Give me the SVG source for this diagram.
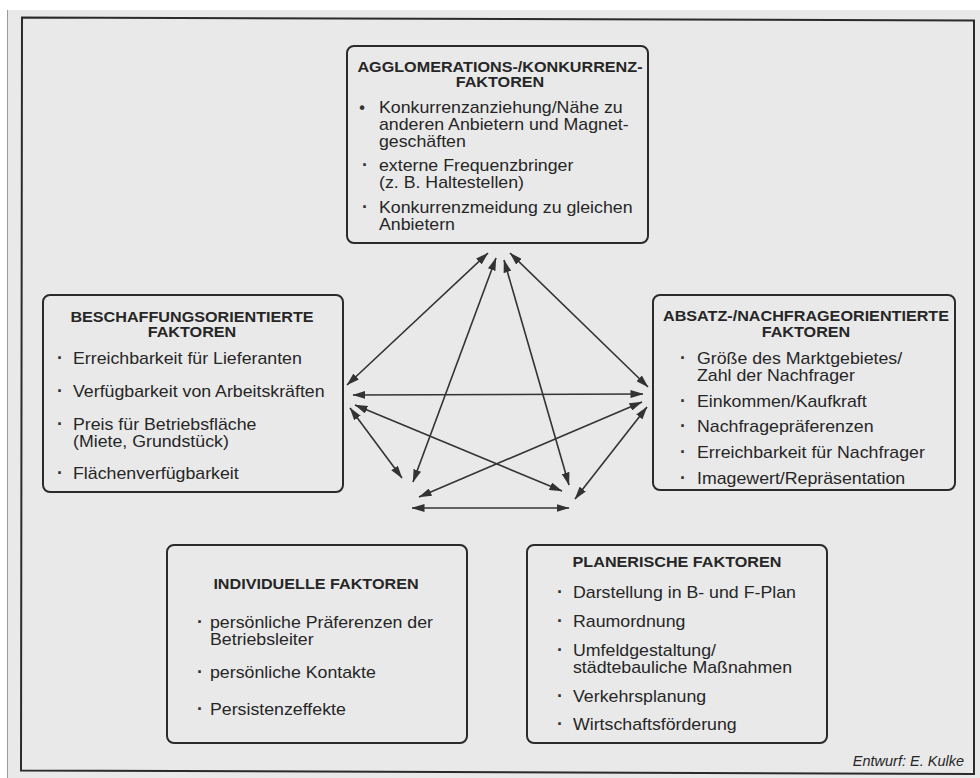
<svg xmlns="http://www.w3.org/2000/svg" width="980" height="778" viewBox="0 0 980 778">
<defs>
<style>
.t{font-family:"Liberation Sans",Arial,Helvetica,sans-serif;font-size:16px;fill:#262626}
.h{font-family:"Liberation Sans",Arial,Helvetica,sans-serif;font-size:14.7px;font-weight:bold;fill:#262626;text-anchor:middle}
.bu{font-family:"Liberation Sans",Arial,sans-serif;font-size:18px;font-weight:bold;fill:#333;text-anchor:middle}
.box{fill:none;stroke:#2b2b2b;stroke-width:2}
.c{stroke:#333;stroke-width:1.6;fill:none;marker-start:url(#ah);marker-end:url(#ah)}
.cr{font-family:"Liberation Sans",Arial,sans-serif;font-size:14.5px;font-style:italic;fill:#262626;text-anchor:end}
</style>
<marker id="ah" viewBox="0 0 13 8" refX="12.5" refY="4" markerWidth="13" markerHeight="8" markerUnits="userSpaceOnUse" orient="auto-start-reverse">
<path d="M0,0 L13,4 L0,8 z" fill="#333"/>
</marker>
</defs>
<rect x="0" y="0" width="980" height="778" fill="#ffffff"/>
<rect x="7" y="10" width="973" height="768" fill="#e9e9e9"/>
<line x1="7.5" y1="10" x2="7.5" y2="778" stroke="#9a9a9a" stroke-width="1"/>
<path d="M22,17.5 L974,20.5 L974,774 L21,770.5 Z" fill="none" stroke="#2b2b2b" stroke-width="2"/>

<g id="n-agglomeration">
<rect class="box" x="347" y="46" width="301" height="197" rx="7"/>
<text class="h" transform="translate(500,72) scale(1.1,1)">AGGLOMERATIONS-/KONKURRENZ-</text>
<text class="h" transform="translate(500,87) scale(1.1,1)">FAKTOREN</text>
<text class="bu" x="362" y="113" style="font-size:16px">•</text>
<text class="bu" x="365" y="171">·</text>
<text class="bu" x="365" y="213">·</text>
<text class="t" transform="translate(379,113) scale(1.11,1)">Konkurrenzanziehung/Nähe zu</text>
<text class="t" transform="translate(379,130) scale(1.11,1)">anderen Anbietern und Magnet-</text>
<text class="t" transform="translate(379,147) scale(1.11,1)">geschäften</text>
<text class="t" transform="translate(379,171) scale(1.11,1)">externe Frequenzbringer</text>
<text class="t" transform="translate(379,188) scale(1.11,1)">(z. B. Haltestellen)</text>
<text class="t" transform="translate(379,213) scale(1.11,1)">Konkurrenzmeidung zu gleichen</text>
<text class="t" transform="translate(379,230) scale(1.11,1)">Anbietern</text>
</g>

<g id="n-beschaffung">
<rect class="box" x="43" y="295" width="300" height="197" rx="7"/>
<text class="h" transform="translate(192,322) scale(1.1,1)">BESCHAFFUNGSORIENTIERTE</text>
<text class="h" transform="translate(192,337) scale(1.1,1)">FAKTOREN</text>
<text class="bu" x="60" y="364">·</text>
<text class="bu" x="60" y="397">·</text>
<text class="bu" x="60" y="430">·</text>
<text class="bu" x="60" y="479">·</text>
<text class="t" transform="translate(73,364) scale(1.11,1)">Erreichbarkeit für Lieferanten</text>
<text class="t" transform="translate(73,397) scale(1.11,1)">Verfügbarkeit von Arbeitskräften</text>
<text class="t" transform="translate(73,430) scale(1.11,1)">Preis für Betriebsfläche</text>
<text class="t" transform="translate(73,447) scale(1.11,1)">(Miete, Grundstück)</text>
<text class="t" transform="translate(73,479) scale(1.11,1)">Flächenverfügbarkeit</text>
</g>

<g id="n-absatz">
<rect class="box" x="653" y="295" width="302" height="195" rx="7"/>
<text class="h" transform="translate(806,321) scale(1.1,1)">ABSATZ-/NACHFRAGEORIENTIERTE</text>
<text class="h" transform="translate(806,337) scale(1.1,1)">FAKTOREN</text>
<text class="bu" x="683" y="364">·</text>
<text class="bu" x="683" y="407">·</text>
<text class="bu" x="683" y="432">·</text>
<text class="bu" x="683" y="458">·</text>
<text class="bu" x="683" y="484">·</text>
<text class="t" transform="translate(697,364) scale(1.11,1)">Größe des Marktgebietes/</text>
<text class="t" transform="translate(697,381) scale(1.11,1)">Zahl der Nachfrager</text>
<text class="t" transform="translate(697,407) scale(1.11,1)">Einkommen/Kaufkraft</text>
<text class="t" transform="translate(697,432) scale(1.11,1)">Nachfragepräferenzen</text>
<text class="t" transform="translate(697,458) scale(1.11,1)">Erreichbarkeit für Nachfrager</text>
<text class="t" transform="translate(697,484) scale(1.11,1)">Imagewert/Repräsentation</text>
</g>

<g id="n-individuell">
<rect class="box" x="167" y="545" width="300" height="198" rx="7"/>
<text class="h" transform="translate(316,589) scale(1.1,1)">INDIVIDUELLE FAKTOREN</text>
<text class="bu" x="200" y="628">·</text>
<text class="bu" x="200" y="678">·</text>
<text class="bu" x="200" y="715">·</text>
<text class="t" transform="translate(210,628) scale(1.11,1)">persönliche Präferenzen der</text>
<text class="t" transform="translate(210,645) scale(1.11,1)">Betriebsleiter</text>
<text class="t" transform="translate(210,678) scale(1.11,1)">persönliche Kontakte</text>
<text class="t" transform="translate(210,715) scale(1.11,1)">Persistenzeffekte</text>
</g>

<g id="n-planerisch">
<rect class="box" x="527" y="545" width="300" height="198" rx="7"/>
<text class="h" transform="translate(677,567) scale(1.1,1)">PLANERISCHE FAKTOREN</text>
<text class="bu" x="560" y="598">·</text>
<text class="bu" x="560" y="627">·</text>
<text class="bu" x="560" y="656">·</text>
<text class="bu" x="560" y="702">·</text>
<text class="bu" x="560" y="730">·</text>
<text class="t" transform="translate(573,598) scale(1.11,1)">Darstellung in B- und F-Plan</text>
<text class="t" transform="translate(573,627) scale(1.11,1)">Raumordnung</text>
<text class="t" transform="translate(573,656) scale(1.11,1)">Umfeldgestaltung/</text>
<text class="t" transform="translate(573,673) scale(1.11,1)">städtebauliche Maßnahmen</text>
<text class="t" transform="translate(573,702) scale(1.11,1)">Verkehrsplanung</text>
<text class="t" transform="translate(573,730) scale(1.11,1)">Wirtschaftsförderung</text>
</g>

<g id="connectors">
<line class="c" x1="488" y1="253" x2="347" y2="385"/>
<line class="c" x1="496" y1="258" x2="413" y2="482"/>
<line class="c" x1="504" y1="260" x2="569" y2="485"/>
<line class="c" x1="510" y1="253" x2="648" y2="387"/>
<line class="c" x1="353" y1="395" x2="643" y2="394"/>
<line class="c" x1="355" y1="405" x2="562" y2="491"/>
<line class="c" x1="350" y1="408" x2="402" y2="478"/>
<line class="c" x1="642" y1="402" x2="419" y2="497"/>
<line class="c" x1="647" y1="407" x2="575" y2="499"/>
<line class="c" x1="412" y1="508" x2="569" y2="508"/>
</g>

<text class="cr" x="964" y="766">Entwurf: E. Kulke</text>
</svg>
